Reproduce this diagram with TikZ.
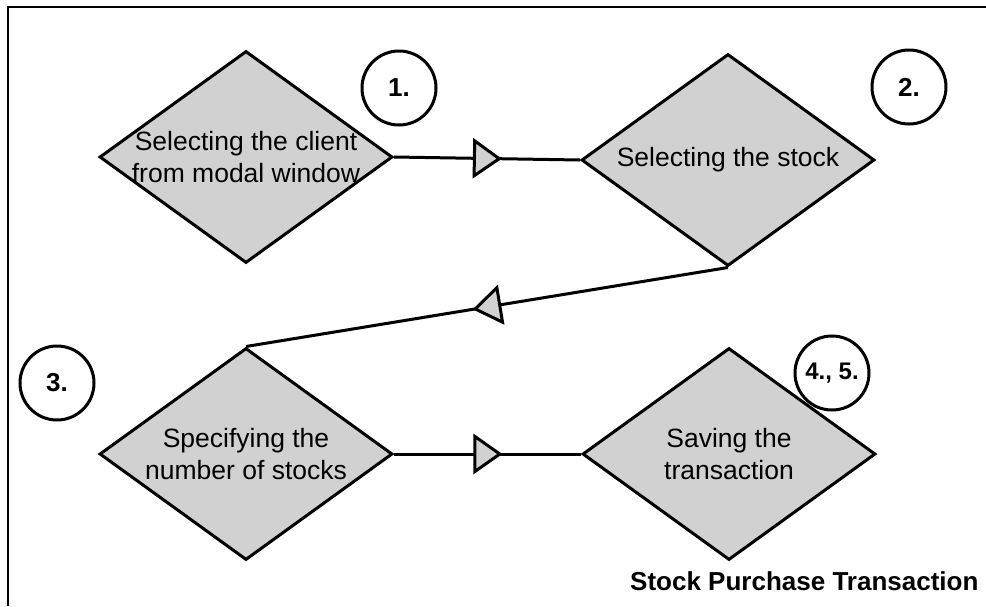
\documentclass[tikz,border=0pt]{standalone}
\usepackage{fontspec}
\setmainfont{Liberation Sans}
\usetikzlibrary{shapes.geometric,arrows.meta,decorations.markings}
\tikzset{
  dia/.style={diamond, draw, line width=3pt, fill=black!18, minimum width=293pt, minimum height=212pt, inner sep=0pt},
  diatext/.style={align=center, font=\fontsize{26.5}{32}\selectfont},
  stepnum/.style={circle, draw, line width=3pt, minimum size=74pt, inner sep=0pt, font=\bfseries\fontsize{26}{30}\selectfont},
  conn/.style={line width=3pt},
  midtri/.style={postaction={decorate}, decoration={markings, mark=at position #1 with {\arrow[line width=3pt]{Triangle[length=29pt, width=40pt, fill=black!18]}}}}
}
\begin{document}
\begin{tikzpicture}[x=1pt,y=-1pt]
\useasboundingbox (0,0) rectangle (986,606);
\draw[line width=2.5pt] (8,606) -- (8,7) -- (986,7);
\node[dia] (d1) at (246,157) {};
\node[diatext] at (d1) {Selecting the client\\from modal window};
\node[dia] (d2) at (728,160) {};
\node[diatext] at (d2) {Selecting the stock};
\node[dia] (d3) at (246,454) {};
\node[diatext] at (d3) {Specifying the\\number of stocks};
\node[dia] (d4) at (729,454) {};
\node[diatext] at (d4) {Saving the\\transaction};
\node[stepnum] (c1) at (399,88) {1.};
\node[stepnum] (c2) at (909,87) {2.};
\node[stepnum] (c3) at (57,383) {3.};
\node[stepnum, font=\bfseries\fontsize{24}{28}\selectfont] (c4) at (832,373) {4., 5.};
\draw[conn, midtri=0.58] (d1.east) -- (d2.west);
\draw[conn, midtri=0.53] (d2.south) -- (d3.north);
\draw[conn, midtri=0.58] (d3.east) -- (d4.west);
\node[anchor=base east, font=\bfseries\fontsize{26}{30}\selectfont] (title) at (982,590) {Stock Purchase Transaction};
\end{tikzpicture}
\end{document}
